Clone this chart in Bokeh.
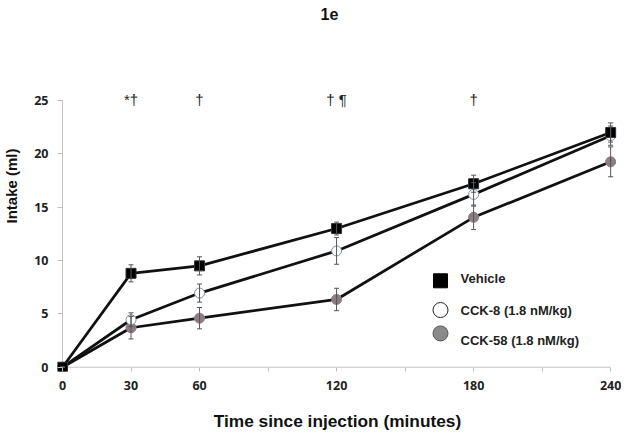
import numpy as np
from bokeh.plotting import figure
from bokeh.models import Range1d, FixedTicker, ColumnDataSource, Whisker, TeeHead
from bokeh.core.properties import value
from bokeh.embed import file_html
from bokeh.resources import INLINE

# ---- data ----
times = [0, 30, 60, 120, 180, 240]
vehicle = [0, 8.8, 9.5, 13.0, 17.2, 22.0]
vehicle_err = [0, 0.8, 0.85, 0.6, 0.8, 0.9]
cck8 = [0, 4.45, 6.95, 10.9, 16.2, 21.7]
cck8_err = [0, 0.65, 0.85, 1.25, 1.1, 0.9]
cck58 = [0, 3.7, 4.6, 6.35, 14.05, 19.25]
cck58_err = [0, 1.05, 1.0, 1.05, 1.15, 1.4]

x_ticks = [0, 30, 60, 90, 120, 150, 180, 210, 240]
x_tick_labels = ["0", "30", "60", "", "120", "", "180", "", "240"]
y_ticks = [0, 5, 10, 15, 20, 25]

sig_times = [30, 60, 120, 180]
sig_marks = ["*\u2020", "\u2020", "\u2020 \u00b6", "\u2020"]

legend_labels = ["Vehicle", "CCK-8 (1.8 nM/kg)", "CCK-58 (1.8 nM/kg)"]

TITLE = "1e"
X_LABEL = "Time since injection (minutes)"
Y_LABEL = "Intake (ml)"

# ---- figure ----
p = figure(width=621, height=437, output_backend="svg", toolbar_location=None,
           title=None,
           x_range=Range1d(-2.19, 243), y_range=Range1d(-0.4, 34.37),
           min_border_left=57, min_border_right=4, min_border_top=0,
           min_border_bottom=66)
p.outline_line_color = None
p.grid.visible = False

for ax in (p.xaxis[0], p.yaxis[0]):
    ax.axis_line_color = None
    ax.major_tick_line_color = "#bfbfbf"
    ax.major_tick_line_width = 1
    ax.minor_tick_line_color = None
    ax.major_tick_out = 0
    ax.major_label_text_font = "Open Sans"
    ax.major_label_text_font_style = "bold"
    ax.major_label_text_font_size = "12.5px"
    ax.major_label_text_color = "#222222"
    ax.axis_label_text_font = "Liberation Sans"
    ax.axis_label_text_font_style = "bold"
    ax.axis_label_text_color = "#111111"

p.xaxis.ticker = FixedTicker(ticks=x_ticks)
p.xaxis.major_label_overrides = {t: l for t, l in zip(x_ticks, x_tick_labels)}
p.xaxis.major_tick_in = 4
p.xaxis.major_label_standoff = 9
p.xaxis.bounds = (-6, x_ticks[-1])
p.xaxis.axis_label = X_LABEL
p.xaxis.axis_label_text_font_size = "17.3px"
p.xaxis.axis_label_standoff = 18

p.yaxis.ticker = FixedTicker(ticks=y_ticks)
p.yaxis.major_tick_in = 5
p.yaxis.major_label_standoff = 9
p.yaxis.bounds = (-3.8, 29.7)
p.yaxis.axis_label = Y_LABEL
p.yaxis.axis_label_text_font_size = "15px"
p.yaxis.axis_label_standoff = 11

# axis lines at zero
p.segment(x0=[times[0]], y0=[0], x1=[times[-1]], y1=[0], line_color="#c4c4c4", line_width=1)
p.segment(x0=[0], y0=[y_ticks[0]], x1=[0], y1=[y_ticks[-1]], line_color="#c4c4c4", line_width=1)

# ---- series ----
series = [
    (cck58, cck58_err, "circle", 10, "#8c7c84", "#8c7c84"),
    (cck8, cck8_err, "circle", 10, "white", "#7f8ea3"),
    (vehicle, vehicle_err, "square", 10, "black", "#333333"),
]
for vals, errs, marker, size, fill, outline in series:
    v = np.array(vals, dtype=float)
    e = np.array(errs, dtype=float)
    src = ColumnDataSource(dict(x=times, y=v, upper=v + e, lower=v - e))
    w = Whisker(base="x", upper="upper", lower="lower", source=src,
                line_color="#555555", line_width=1,
                upper_head=TeeHead(size=5, line_color="#555555", line_width=1),
                lower_head=TeeHead(size=5, line_color="#555555", line_width=1))
    w.level = "glyph"
    p.add_layout(w)
    p.line("x", "y", source=src, line_color="#111111", line_width=2.75)
    p.scatter("x", "y", source=src, marker=marker, size=size,
              fill_color=fill, line_color=outline, line_width=1)

# significance marks
p.text(x=sig_times, y=[25.1] * len(sig_times), text=sig_marks,
       text_align="center", text_baseline="middle",
       text_font=value("Liberation Sans"), text_font_size="15px", text_color="#222222")

# chart title (inside the extended plot area)
p.text(x=[116.9], y=[33.15], text=[TITLE], text_align="center", text_baseline="middle",
       text_font=value("Liberation Sans"), text_font_style="bold",
       text_font_size="16px", text_color="#111111")

# ---- legend (manual) ----
leg_marker_x = [165.5] * 3
leg_marker_y = [8.1, 5.36, 3.17]
leg_text_x = [174.3] * 3
leg_text_y = [8.27, 5.36, 2.55]
p.scatter(x=leg_marker_x[:1], y=leg_marker_y[:1], marker="square", size=14,
          fill_color="black", line_color="black")
p.scatter(x=leg_marker_x[1:2], y=leg_marker_y[1:2], marker="circle", size=15,
          fill_color="white", line_color="#222222", line_width=1)
p.scatter(x=leg_marker_x[2:], y=leg_marker_y[2:], marker="circle", size=15,
          fill_color="#8a8a8a", line_color="#555555", line_width=1)
p.text(x=leg_text_x, y=leg_text_y, text=legend_labels, text_align="left",
       text_baseline="middle", text_font=value("Liberation Sans"),
       text_font_style="bold", text_font_size="13px", text_color="#222222")

open("out.html", "w").write(file_html(p, INLINE))
